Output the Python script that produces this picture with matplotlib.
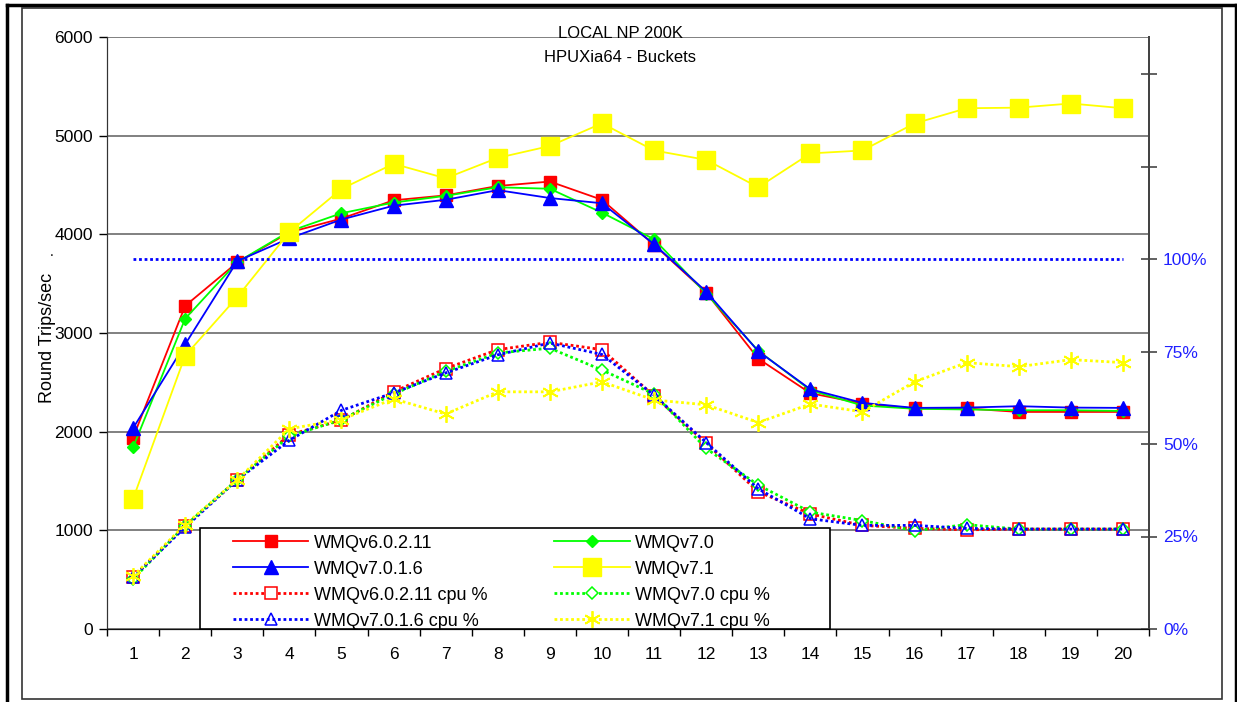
import matplotlib
matplotlib.use('Agg')
import matplotlib.pyplot as plt
from matplotlib.patches import Rectangle
from matplotlib.lines import Line2D

plt.rcParams['font.family'] = ['Liberation Sans', 'DejaVu Sans']

# x axis categories
runs = list(range(1, 21))

# Round trips/sec (left axis)
rt_v6 = [1940, 3275, 3715, 4020, 4160, 4345, 4395, 4490, 4535, 4350,
         3895, 3410, 2740, 2390, 2285, 2235, 2235, 2200, 2200, 2200]
rt_v70 = [1840, 3145, 3718, 4030, 4214, 4322, 4390, 4477, 4462, 4220,
          3950, 3400, 2820, 2420, 2265, 2232, 2225, 2217, 2217, 2210]
rt_v7016 = [2035, 2885, 3728, 3960, 4150, 4290, 4350, 4448, 4368, 4315,
            3900, 3420, 2815, 2430, 2292, 2241, 2244, 2258, 2244, 2241]
rt_v71 = [1318, 2770, 3364, 4022, 4460, 4715, 4568, 4775, 4895, 5125,
          4850, 4755, 4477, 4820, 4850, 5124, 5278, 5284, 5326, 5278]

# cpu % (right axis)
cpu_v6 = [14.0, 27.9, 40.3, 52.5, 56.4, 64.1, 70.4, 75.5, 77.5, 75.5,
          63.0, 50.2, 37.1, 31.1, 28.0, 27.2, 26.8, 27.0, 27.0, 27.0]
cpu_v70 = [13.5, 27.9, 40.3, 52.1, 56.6, 63.5, 69.6, 74.6, 75.9, 70.0,
           63.5, 48.8, 38.9, 31.6, 29.3, 26.6, 28.2, 27.0, 27.0, 27.0]
cpu_v7016 = [14.0, 27.5, 40.3, 51.0, 59.1, 63.8, 69.2, 74.1, 77.3, 74.2,
             63.2, 50.4, 37.9, 29.8, 28.0, 28.0, 27.2, 27.0, 27.0, 27.0]
cpu_v71 = [14.3, 28.2, 40.3, 54.1, 56.6, 62.2, 58.1, 64.1, 64.1, 66.8,
           61.9, 60.6, 55.8, 60.8, 58.7, 66.8, 72.0, 70.9, 72.8, 72.0]

cpu_ceiling = 100

left_ticks = [0, 1000, 2000, 3000, 4000, 5000, 6000]
right_ticks = [0, 25, 50, 75, 100, 125, 150]
right_labels = ['0%', '25%', '50%', '75%', '100%', '', '']

W, H = 1237, 702


def fx(x):
    return x / W


def fy(y):
    return 1 - y / H


def main():
    fig = plt.figure(figsize=(W / 100, H / 100), dpi=100)
    ax = fig.add_axes([fx(107), fy(629), fx(1149) - fx(107), fy(37) - fy(629)])
    ax2 = ax.twinx()

    dot = (0, (1, 1))
    # throughput lines
    l1, = ax.plot(runs, rt_v6, color='#FF0000', lw=1.3, marker='s', ms=8.5)
    l2, = ax.plot(runs, rt_v70, color='#00FF00', lw=1.3, marker='D', ms=6.5)
    l3, = ax.plot(runs, rt_v7016, color='#0000FF', lw=1.3, marker='^', ms=9.5)
    l4, = ax.plot(runs, rt_v71, color='#FFFF00', lw=1.3, marker='s', ms=13)

    # cpu lines
    c1, = ax2.plot(runs, cpu_v6, color='#FF0000', lw=2, ls=dot, marker='s',
                   ms=8, mfc='white', mew=1.1)
    c2, = ax2.plot(runs, cpu_v70, color='#00FF00', lw=2, ls=dot, marker='D',
                   ms=6.5, mfc='white', mew=1.1)
    c3, = ax2.plot(runs, cpu_v7016, color='#0000FF', lw=2, ls=dot, marker='^',
                   ms=9, mfc='none', mew=1.1)
    c4, = ax2.plot(runs, cpu_v71, color='#FFFF00', lw=2, ls=dot, marker=(6, 2, 0),
                   ms=12, mew=1.3)
    ax2.hlines(cpu_ceiling, runs[0], runs[-1], color='#0000FF', lw=2, linestyles=dot)

    ax.set_xlim(0.5, 20.5)
    ax.set_ylim(0, 6000)
    ax2.set_ylim(0, 160)

    ax.set_yticks(left_ticks)
    ax.set_yticklabels([str(t) for t in left_ticks], fontsize=12.5)
    ax.yaxis.grid(True, color='#808080', lw=1.4)
    ax.set_axisbelow(True)
    ax.tick_params(axis='y', direction='out', length=6, width=1, pad=4)

    ax.set_xticks(runs)
    ax.set_xticklabels([str(r) for r in runs], fontsize=12.5)
    ax.set_xticks([r - 0.5 for r in runs] + [20.5], minor=True)
    ax.tick_params(axis='x', which='major', length=0, pad=13)
    ax.tick_params(axis='x', which='minor', direction='out', length=5, width=1)

    ax2.set_yticks(right_ticks)
    ax2.set_yticklabels(right_labels, fontsize=12.5, color='#2020FF')
    ax2.tick_params(axis='y', direction='inout', length=12, width=1.3,
                    color='#555555', pad=4)

    for a in (ax, ax2):
        a.spines['top'].set_visible(False)
        a.spines['left'].set_color('#333333')
        a.spines['bottom'].set_color('#111111')
        a.spines['right'].set_color('#444444')
        a.spines['right'].set_linewidth(1.4)
    ax.patch.set_visible(False)

    # titles
    fig.text(fx(620), fy(34), 'LOCAL NP 200K', ha='center', va='center', fontsize=12)
    fig.text(fx(620), fy(58), 'HPUXia64 - Buckets', ha='center', va='center', fontsize=12)
    fig.text(fx(47), fy(338), 'Round Trips/sec', rotation=90, ha='center', va='center',
             fontsize=13)
    fig.text(fx(52), fy(252), '.', ha='center', va='center', fontsize=10)

    # legend box drawn by hand, entries by fig.legend
    fig.add_artist(Rectangle((fx(200), fy(629)), fx(830) - fx(200), fy(528) - fy(629),
                             transform=fig.transFigure, facecolor='white',
                             edgecolor='black', lw=1.2, zorder=4))
    handles = [l1, l3, c1, c3, l2, l4, c2, c4]
    labels = ['WMQv6.0.2.11', 'WMQv7.0.1.6', 'WMQv6.0.2.11 cpu %', 'WMQv7.0.1.6 cpu %',
              'WMQv7.0', 'WMQv7.1', 'WMQv7.0 cpu %', 'WMQv7.1 cpu %']
    leg = fig.legend(handles, labels, ncol=2, loc='upper left',
                     bbox_to_anchor=(fx(229), fy(531)), frameon=False,
                     fontsize=13, handlelength=4.2, handletextpad=0.3,
                     columnspacing=3.7, labelspacing=0.5, numpoints=1,
                     borderaxespad=0, borderpad=0.2)
    leg.set_zorder(5)

    # outer frames
    fig.add_artist(Rectangle((fx(22), fy(699)), fx(1222) - fx(22), fy(8) - fy(699),
                             transform=fig.transFigure, fill=False,
                             edgecolor='#333333', lw=1.2))
    fig.add_artist(Line2D([fx(7), fx(7)], [0, fy(5)], color='black', lw=2.5))
    fig.add_artist(Line2D([fx(7), fx(1236)], [fy(5), fy(5)], color='black', lw=2.5))
    fig.add_artist(Line2D([fx(1236), fx(1236)], [0, fy(5)], color='black', lw=2.5))

    fig.savefig('out.png', dpi=100)
    print("saved out.png")


if __name__ == '__main__':
    main()
